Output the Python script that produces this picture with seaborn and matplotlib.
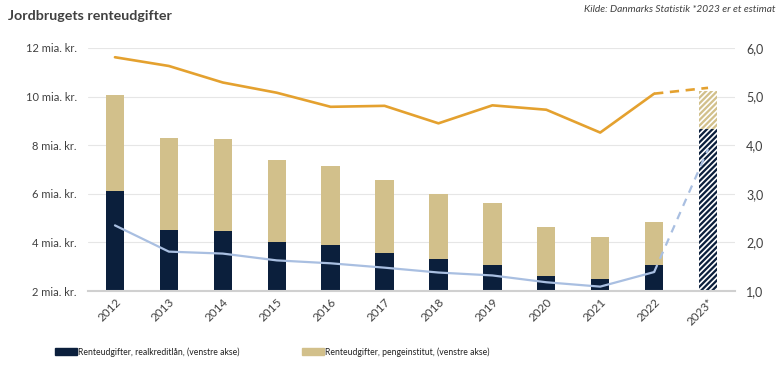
import numpy as np
import pandas as pd
import seaborn as sns
import matplotlib.pyplot as plt
from matplotlib.patches import Patch
from matplotlib.ticker import FuncFormatter

years = ['2012', '2013', '2014', '2015', '2016', '2017', '2018', '2019', '2020', '2021', '2022', '2023*']
realkredit = [6.1, 4.5, 4.48, 4.0, 3.9, 3.57, 3.33, 3.08, 2.6, 2.5, 3.08, 8.68]
pengeinst_total = [10.05, 8.3, 8.25, 7.38, 7.15, 6.58, 6.0, 5.63, 4.62, 4.23, 4.85, 10.23]
orange_line = [5.81, 5.63, 5.29, 5.08, 4.79, 4.81, 4.45, 4.82, 4.73, 4.26, 5.06, 5.18]
blue_line = [2.35, 1.81, 1.77, 1.63, 1.57, 1.48, 1.38, 1.32, 1.18, 1.09, 1.39, 3.92]

navy = '#0B1F3C'
beige = '#D2C08B'
orange = '#E4A12F'
lightblue = '#A9BFE1'
txt = '#404040'

sns.set_style('white')
plt.rcParams['font.family'] = ['Lato', 'DejaVu Sans']
plt.rcParams['hatch.linewidth'] = 1.2

df = pd.DataFrame({'year': years, 'realkredit': realkredit, 'total': pengeinst_total})

fig = plt.figure(figsize=(7.84, 3.71), dpi=100)
ax = fig.add_axes([88/784, 1-291/371, (735-88)/784, (291-48)/371])

sns.barplot(x='year', y='total', data=df, color=beige, saturation=1, width=0.34,
            errorbar=None, linewidth=0, ax=ax)
sns.barplot(x='year', y='realkredit', data=df, color=navy, saturation=1, width=0.34,
            errorbar=None, linewidth=0, ax=ax)

n = len(years)
for p, c in [(ax.patches[n - 1], beige), (ax.patches[2 * n - 1], navy)]:
    p.set_facecolor(c)
    p.set_edgecolor('white')
    p.set_linewidth(0)
    p.set_hatch('//////')

ax.set_ylim(2, 12)
ax.set_yticks([2, 4, 6, 8, 10, 12])
ax.set_yticklabels([f'{v} mia. kr.' for v in [2, 4, 6, 8, 10, 12]])
ax.set_xlim(-0.5, n - 0.5)
ax.set_xlabel('')
ax.set_ylabel('')
ax.grid(axis='y', color='#E6E6E6', linewidth=0.8)
ax.set_axisbelow(True)
for s in ['left', 'right', 'top']:
    ax.spines[s].set_visible(False)
ax.spines['bottom'].set_color('#D0D0D0')
ax.spines['bottom'].set_linewidth(1.5)
ax.tick_params(axis='y', length=0, labelsize=8, labelcolor=txt, pad=8)
ax.tick_params(axis='x', length=0, labelsize=8.5, labelcolor=txt, pad=4)
for lab in ax.get_xticklabels():
    lab.set_rotation(45)
    lab.set_ha('right')
    lab.set_rotation_mode('anchor')

ax2 = ax.twinx()
xs = np.arange(n)
sns.lineplot(x=xs[:n-1], y=orange_line[:n-1], color=orange, linewidth=1.9, ax=ax2)
sns.lineplot(x=xs[n-2:], y=orange_line[n-2:], color=orange, linewidth=1.9,
             dashes=False, ax=ax2, linestyle=(0, (3.5, 2.5)))
sns.lineplot(x=xs[:n-1], y=blue_line[:n-1], color=lightblue, linewidth=1.6, ax=ax2)
sns.lineplot(x=xs[n-2:], y=blue_line[n-2:], color=lightblue, linewidth=1.6,
             dashes=False, ax=ax2, linestyle=(0, (3.5, 3)))
ax2.set_ylim(1, 6)
ax2.set_yticks([1, 2, 3, 4, 5, 6])
ax2.yaxis.set_major_formatter(FuncFormatter(lambda v, p: f'{v:.1f}'.replace('.', ',')))
ax2.tick_params(axis='y', length=0, labelsize=9, labelcolor=txt, pad=8)
for s in ['left', 'right', 'top', 'bottom']:
    ax2.spines[s].set_visible(False)
ax2.set_xlim(-0.5, n - 0.5)

fig.text(8/784, 1-16/371, 'Jordbrugets renteudgifter', fontsize=10.3, fontweight='bold',
         color=txt, va='center', ha='left')
fig.text(776/784, 1-9/371, 'Kilde: Danmarks Statistik *2023 er et estimat', fontsize=7.3,
         style='italic', color=txt, va='center', ha='right')

leg_kw = dict(frameon=False, fontsize=6.2, handlelength=2.6, handleheight=0.85,
              handletextpad=0.1, borderpad=0, borderaxespad=0, loc='center left')
l1 = fig.legend(handles=[Patch(color=navy, label='Renteudgifter, realkreditlån, (venstre akse)')],
                bbox_to_anchor=(55/784, 1-352/371), **leg_kw)
l2 = fig.legend(handles=[Patch(color=beige, label='Renteudgifter, pengeinstitut, (venstre akse)')],
                bbox_to_anchor=(302/784, 1-352/371), **leg_kw)
for l in (l1, l2):
    for t in l.get_texts():
        t.set_color('#202020')

fig.savefig('out.png', dpi=100)
